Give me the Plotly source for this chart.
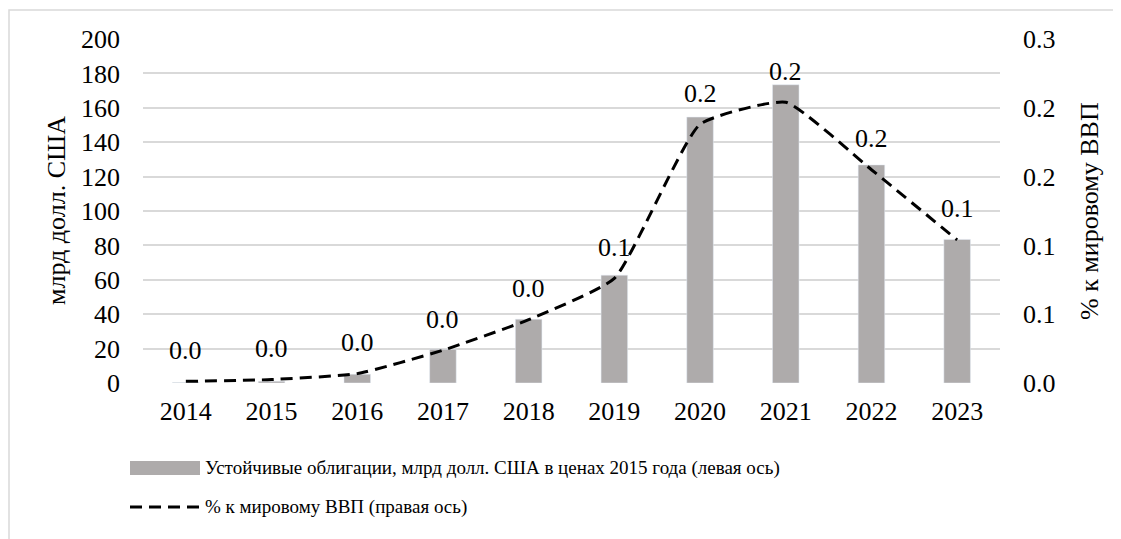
import plotly.graph_objects as go

years = [2014, 2015, 2016, 2017, 2018, 2019, 2020, 2021, 2022, 2023]
bonds_bn_usd = [0.3, 1.0, 5.1, 19.6, 37.1, 62.7, 154.6, 173.4, 126.8, 83.5]
share_gdp_pct = [0.0012, 0.0025, 0.0068, 0.0238, 0.046, 0.076, 0.188, 0.204, 0.155, 0.104]

left_ticks = [0, 20, 40, 60, 80, 100, 120, 140, 160, 180, 200]
right_tickvals = [0.0, 0.05, 0.10, 0.15, 0.20, 0.25]
right_ticktext = ["0.0", "0.1", "0.1", "0.2", "0.2", "0.3"]

bar_name = "Устойчивые облигации, млрд долл. США в ценах 2015 года (левая ось)"
line_name = "% к мировому ВВП (правая ось)"
left_title = "млрд долл. США"
right_title = "% к мировому ВВП"

FONT = "'Liberation Serif', 'Times New Roman', serif"
BAR_COLOR = "#AEABAB"
GRID = "#D9D9D9"

# the page body has an 8px margin, so the figure is shrunk by it and
# every target position (given in page pixels) is shifted by it
OFF = 8
W, H = 1121 - OFF, 539 - OFF
PLOT_LEFT, PLOT_RIGHT, PLOT_TOP, PLOT_BOTTOM = 143, 1000, 39, 383
L = PLOT_LEFT - OFF
T = PLOT_TOP - OFF
R = W - (PLOT_RIGHT - OFF)
B = H - (PLOT_BOTTOM - OFF)
PW, PH = PLOT_RIGHT - PLOT_LEFT, PLOT_BOTTOM - PLOT_TOP


def px(xp):
    return (xp - PLOT_LEFT) / PW


def py(yp):
    return (PLOT_BOTTOM - yp) / PH


fig = go.Figure()
fig.add_trace(go.Bar(x=years, y=bonds_bn_usd, marker_color=BAR_COLOR, width=0.31,
                     name=bar_name, yaxis="y"))
fig.add_trace(go.Scatter(x=years, y=share_gdp_pct, mode="lines", yaxis="y2", name=line_name,
                         line=dict(color="black", width=3, dash="12px,7px", shape="spline", smoothing=0.45)))

annotations = []
for yr, v in zip(years, share_gdp_pct):
    annotations.append(dict(x=yr, y=v, xref="x", yref="y2", text=f"{v:.1f}", showarrow=False,
                            yshift=31, font=dict(family=FONT, size=26, color="black")))

annotations.append(dict(x=px(56), y=0.5, xref="paper", yref="paper", text=left_title, textangle=-90,
                        showarrow=False, xanchor="center", yanchor="middle",
                        font=dict(family=FONT, size=26, color="black")))
annotations.append(dict(x=px(1089), y=0.5, xref="paper", yref="paper", text=right_title, textangle=-90,
                        showarrow=False, xanchor="center", yanchor="middle",
                        font=dict(family=FONT, size=26, color="black")))
# legend texts
annotations.append(dict(x=px(203), y=py(468), xref="paper", yref="paper", text=bar_name,
                        showarrow=False, xanchor="left", yanchor="middle",
                        font=dict(family=FONT, size=19, color="black")))
annotations.append(dict(x=px(203), y=py(507), xref="paper", yref="paper", text=line_name,
                        showarrow=False, xanchor="left", yanchor="middle",
                        font=dict(family=FONT, size=19, color="black")))

shapes = [
    # chart border
    dict(type="rect", xref="paper", yref="paper", x0=px(9), x1=px(1119), y0=py(560), y1=py(10),
         line=dict(color=GRID, width=1.5), fillcolor="rgba(0,0,0,0)", layer="below"),
    # legend keys
    dict(type="rect", xref="paper", yref="paper", x0=px(130), x1=px(200), y0=py(475), y1=py(461),
         line=dict(width=0), fillcolor=BAR_COLOR),
    dict(type="line", xref="paper", yref="paper", x0=px(130), x1=px(201), y0=py(507), y1=py(507),
         line=dict(color="black", width=3, dash="12px,7px")),
]

tickfont = dict(family=FONT, size=26, color="black")

fig.update_layout(
    width=W, height=H,
    margin=dict(l=L, r=R, t=T, b=B),
    paper_bgcolor="white", plot_bgcolor="white",
    showlegend=False,
    font=dict(family=FONT, size=26, color="black"),
    xaxis=dict(range=[2013.5, 2023.5], tickvals=years, ticktext=[str(y) for y in years],
               showgrid=False, showline=False, ticks="", zeroline=False,
               ticklabelstandoff=10, tickfont=tickfont),
    yaxis=dict(range=[0, 200], tickvals=left_ticks, showgrid=True, gridcolor=GRID, gridwidth=1.5,
               zeroline=False, showline=False, ticks="", ticklabelstandoff=22, tickfont=tickfont),
    yaxis2=dict(range=[0, 0.25], overlaying="y", side="right", tickvals=right_tickvals,
                ticktext=right_ticktext, showgrid=False, zeroline=False, showline=False, ticks="",
                ticklabelstandoff=22, tickfont=tickfont),
    annotations=annotations,
    shapes=shapes,
)

fig.write_html("out.html")
